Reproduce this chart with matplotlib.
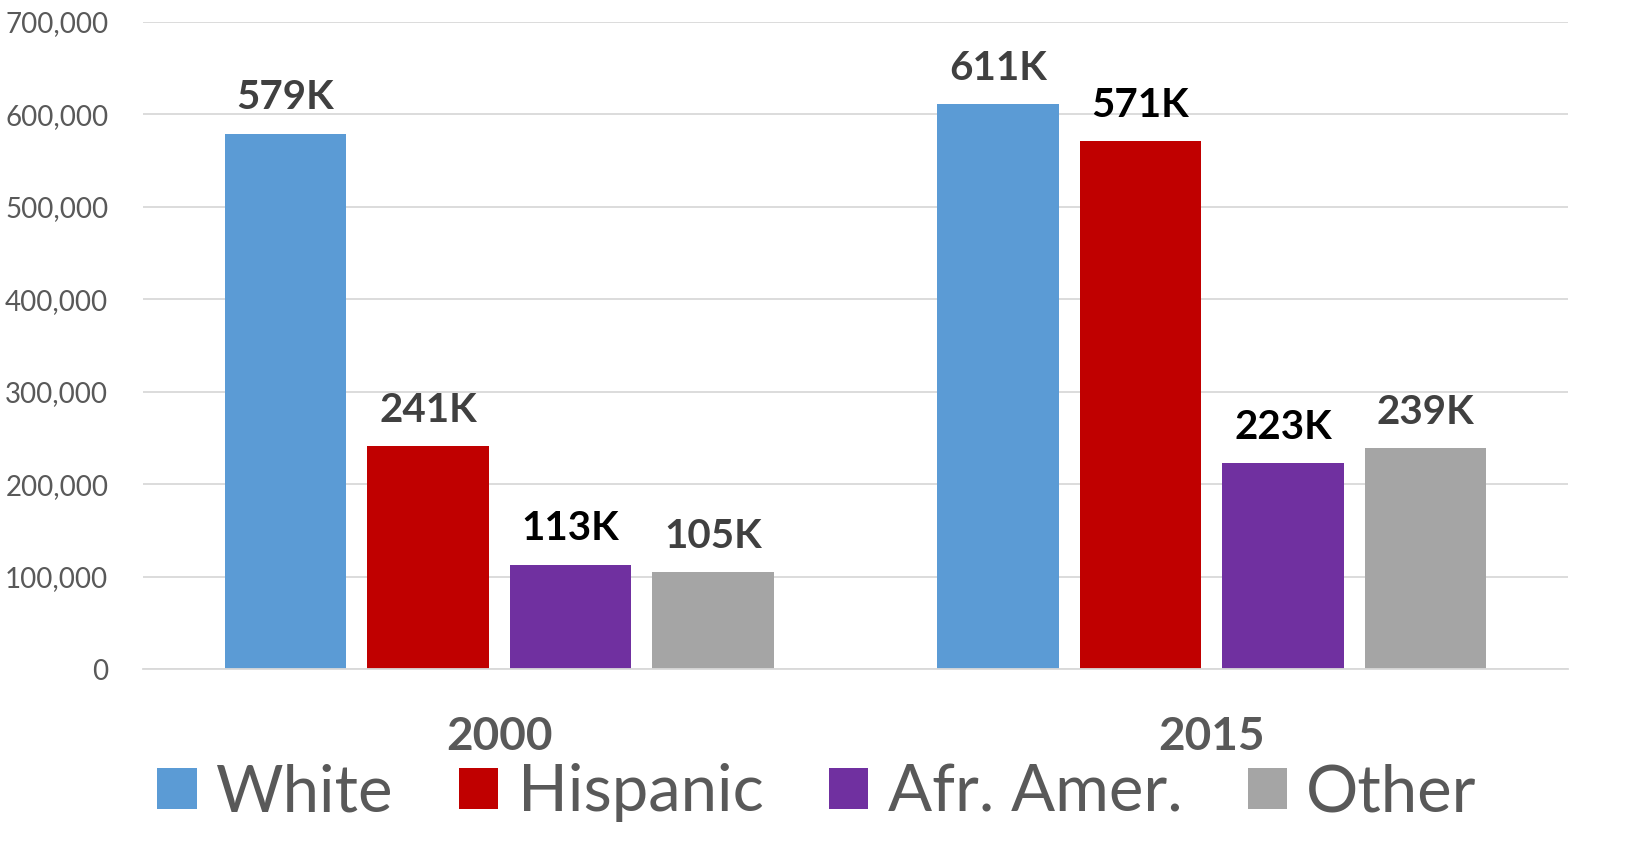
import matplotlib
matplotlib.use("Agg")
import matplotlib.pyplot as plt
import numpy as np
from matplotlib.ticker import FuncFormatter
from matplotlib.patches import Patch

plt.rcParams['font.family'] = ['Lato', 'DejaVu Sans']

years = ["2000", "2015"]
series = ["White", "Hispanic", "Afr. Amer.", "Other"]
white = [579000, 611000]
hispanic = [241000, 571000]
afr_amer = [113000, 223000]
other = [105000, 239000]
labels = [["579K", "611K"], ["241K", "571K"], ["113K", "223K"], ["105K", "239K"]]
label_colors = [["#404040", "#404040"], ["#404040", "#000000"],
                ["#000000", "#000000"], ["#404040", "#404040"]]
colors = ["#5b9bd5", "#c00000", "#7030a0", "#a5a5a5"]
values = [white, hispanic, afr_amer, other]

fig = plt.figure(figsize=(16.31, 8.58), dpi=100)
ax = fig.add_axes([143/1631, 1-669/858, 1425/1631, 647/858])

x = np.arange(len(years))
step = 0.2
width = 0.17
for i, (vals, c) in enumerate(zip(values, colors)):
    pos = x + (i - 1.5) * step
    ax.bar(pos, vals, width=width, color=c, label=series[i], zorder=2)
    for j, v in enumerate(vals):
        ax.annotate(labels[i][j], (pos[j], v), xytext=(0, 12.5), textcoords="offset points",
                    ha="center", va="bottom", fontsize=29, fontweight="bold",
                    color=label_colors[i][j], zorder=3)

ax.set_xlim(-0.5, 1.5)
ax.set_ylim(0, 700000)
ax.set_yticks(np.arange(0, 700001, 100000))
ax.yaxis.set_major_formatter(FuncFormatter(lambda v, p: f"{int(v):,}"))
ax.grid(axis="y", color="#d9d9d9", linewidth=1.3, zorder=0)
ax.set_axisbelow(True)
for s in ["top", "right", "left"]:
    ax.spines[s].set_visible(False)
ax.spines["bottom"].set_color("#d9d9d9")
ax.spines["bottom"].set_linewidth(1.3)
ax.tick_params(axis="y", length=0, pad=25, labelsize=20, labelcolor="#595959")
ax.tick_params(axis="x", length=0, pad=34, labelsize=33, labelcolor="#595959")
ax.set_xticks(x)
ax.set_xticklabels(years, fontweight="bold")

handles = [Patch(facecolor=c, edgecolor="none") for c in colors]
fig.legend(handles, series, loc="center", bbox_to_anchor=(0.501, 1-793/858), ncol=4,
           frameon=False, fontsize=47, labelcolor="#595959", handlelength=0.6,
           handleheight=0.6, handletextpad=0.3, columnspacing=1.0, borderpad=0)

fig.savefig("out.png", dpi=100)
